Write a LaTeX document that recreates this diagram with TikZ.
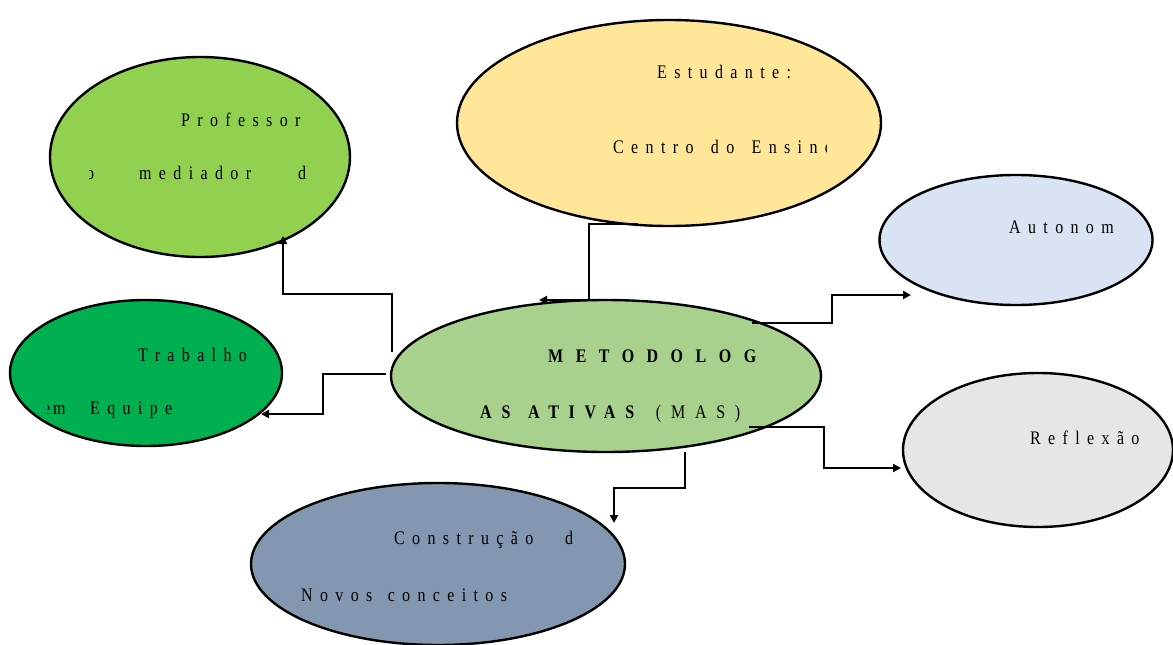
\documentclass[tikz,border=0pt]{standalone}
\usepackage{fontspec}
\usepackage{graphicx}
\usetikzlibrary{shapes.geometric,arrows.meta}
\newfontfamily\spfont[LetterSpace=46]{Liberation Serif}
\newfontfamily\spwide[LetterSpace=78]{Liberation Serif}
\newfontfamily\spmid[LetterSpace=61]{Liberation Serif}
\newcommand{\vst}[1]{\scalebox{1}[1.2]{#1}}
\definecolor{cprof}{HTML}{92D050}
\definecolor{cestu}{HTML}{FFE699}
\definecolor{cauto}{HTML}{DAE3F3}
\definecolor{ctrab}{HTML}{00B050}
\definecolor{cmeto}{HTML}{A9D18E}
\definecolor{crefl}{HTML}{E7E6E6}
\definecolor{ccons}{HTML}{8497B0}
\tikzset{
  bubble/.style={ellipse, draw=black, line width=2.4pt, inner sep=0pt},
  tx/.style={anchor=base west, inner sep=0pt, font=\spfont\fontsize{16}{19}\selectfont},
  conn/.style={line width=2.6pt, line join=miter, -{Triangle[length=8pt,width=8pt]}}
}
\begin{document}
\begin{tikzpicture}[x=1pt,y=-1pt]
\clip (0,0) rectangle (1173,645);
\fill[white] (0,0) rectangle (1173,645);
% ellipses
\node[bubble, fill=cprof, minimum width=300pt, minimum height=200pt] (prof) at (200,157) {};
\node[bubble, fill=cestu, minimum width=424pt, minimum height=206pt] (estu) at (669,123) {};
\node[bubble, fill=cauto, minimum width=273pt, minimum height=130pt] (auto) at (1016,240) {};
\node[bubble, fill=ctrab, minimum width=272pt, minimum height=146pt] (trab) at (146,373) {};
\node[bubble, fill=cmeto, minimum width=430pt, minimum height=152pt] (meto) at (606,376) {};
\node[bubble, fill=crefl, minimum width=270pt, minimum height=154pt] (refl) at (1038,450) {};
\node[bubble, fill=ccons, minimum width=374pt, minimum height=162pt] (cons) at (438,564) {};
% texts
\node[tx] (t1) at (181,126) {\vst{Professor}};
\begin{scope}
\clip (89,150) rectangle (330,200);
\node[tx] (t2a) at (86,179) {\vst{o}};
\end{scope}
\node[tx] (t2b) at (139,179) {\vst{mediador}};
\node[tx] (t2c) at (298,179) {\vst{d}};
\node[tx] (t3) at (657,78) {\vst{Estudante:}};
\begin{scope}
\clip (600,120) rectangle (826,170);
\node[tx] (t4) at (613,153) {\vst{Centro\hspace{6pt} do\hspace{6pt} Ensino}};
\end{scope}
\node[tx] (t5) at (1009,233) {\vst{Autonom}};
\node[tx] (t6) at (138,361) {\vst{Trabalho}};
\begin{scope}
\clip (47,390) rectangle (260,430);
\node[tx] (t7a) at (43,414) {\vst{e}};
\end{scope}
\node[tx] (t7m) at (53,414) {\vst{m}};
\node[tx] (t7b) at (90,414) {\vst{Equipe}};
\node[tx, font=\spwide\fontsize{16}{19}\selectfont] (t8) at (548,362) {\vst{\bfseries METODOLOG}};
\node[tx, font=\spmid\fontsize{16}{19}\selectfont] (t9) at (480,418) {\vst{{\bfseries AS\hspace{4pt} ATIVAS}\hspace{8pt} (MAS)}};
\node[tx] (t10) at (1030,444) {\vst{Reflexão}};
\node[tx] (t11) at (394,544) {\vst{Construção}};
\node[tx] (t11b) at (565,544) {\vst{d}};
\node[tx] (t12) at (301,601) {\vst{Novos\hspace{4pt} conceitos}};
% connector coordinates
\coordinate (s1) at (392,352);
\coordinate (e1) at (283,236);
\coordinate (s2) at (386,374);
\coordinate (e2) at (261,414);
\coordinate (s3) at (638,224);
\coordinate (e3) at (539,300);
\coordinate (s4) at (752,323);
\coordinate (e4) at (911,295);
\coordinate (s5) at (749,427);
\coordinate (e5) at (901,468);
\coordinate (s6) at (685,452);
\coordinate (e6) at (614,523);
% connectors
\draw[conn] (s1) -- (392,294) -- (283,294) -- (e1);
\draw[conn] (s2) -- (323,374) -- (323,414) -- (e2);
\draw[conn] (s3) -- (589,224) -- (589,300) -- (e3);
\draw[conn] (s4) -- (832,323) -- (832,295) -- (e4);
\draw[conn] (s5) -- (824,427) -- (824,468) -- (e5);
\draw[conn] (s6) -- (685,488) -- (614,488) -- (e6);
\end{tikzpicture}
\end{document}
